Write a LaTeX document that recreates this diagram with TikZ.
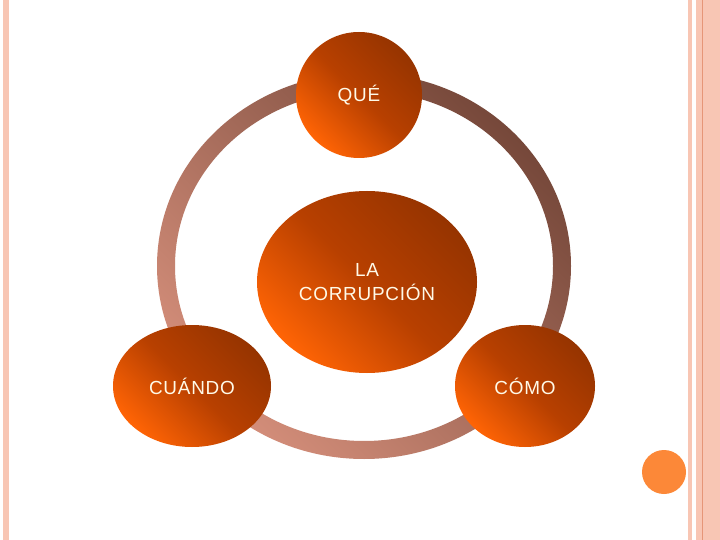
\documentclass[tikz,border=0pt]{standalone}
\usepackage{fontspec}
\setmainfont[LetterSpace=4]{Liberation Sans}
\usetikzlibrary{shapes.geometric, positioning}

\definecolor{ringdark}{RGB}{118,72,58}
\definecolor{ringlight}{RGB}{212,142,122}
\definecolor{balldark}{RGB}{150,52,0}
\definecolor{ballmid}{RGB}{184,64,0}
\definecolor{ballbright}{RGB}{255,100,5}
\definecolor{labeltext}{RGB}{255,250,232}
\definecolor{edgepink}{RGB}{248,198,180}
\definecolor{edgeline}{RGB}{230,150,120}
\definecolor{dotorange}{RGB}{252,136,56}

\tikzset{
  ball/.style={ellipse, inner sep=0pt, top color=balldark, bottom color=ballbright,
    middle color=ballmid, shading angle=-45, text=labeltext,
    font=\fontsize{19}{24}\selectfont, align=center},
}

\begin{document}
\begin{tikzpicture}[x=1bp, y=-1bp]
    % Page and borders
    \useasboundingbox (0,0) rectangle (720,540);
    \fill[white] (0,0) rectangle (720,540);
    \fill[edgepink] (3,0) rectangle (9,540);
    \fill[edgepink] (688,0) rectangle (692,540);
    \fill[edgepink] (696,0) rectangle (720,540);
    \draw[edgeline, line width=1bp] (702.5,0) -- (702.5,540);

    % Ring behind the circles
    \coordinate (hub) at (364,266);
    \shade[even odd rule, top color=ringdark, bottom color=ringlight, shading angle=-45]
      (hub) ellipse [x radius=207, y radius=193] (hub) ellipse [x radius=189, y radius=175];

    % Circles
    \node[ball, minimum width=126bp, minimum height=126bp] (que) at (359,95) {QUÉ};
    \node[ball, minimum width=220bp, minimum height=182bp] (core) at (367,282) {LA\\CORRUPCIÓN};
    \node[ball, minimum width=158bp, minimum height=122bp] (cuando) at (192,386) {CUÁNDO};
    \node[ball, minimum width=140bp, minimum height=122bp] (como) at (525,386) {CÓMO};

    % Small dot at the corner
    \node[circle, fill=dotorange, minimum size=44bp, inner sep=0pt] (dot) at (664,472) {};
\end{tikzpicture}
\end{document}
